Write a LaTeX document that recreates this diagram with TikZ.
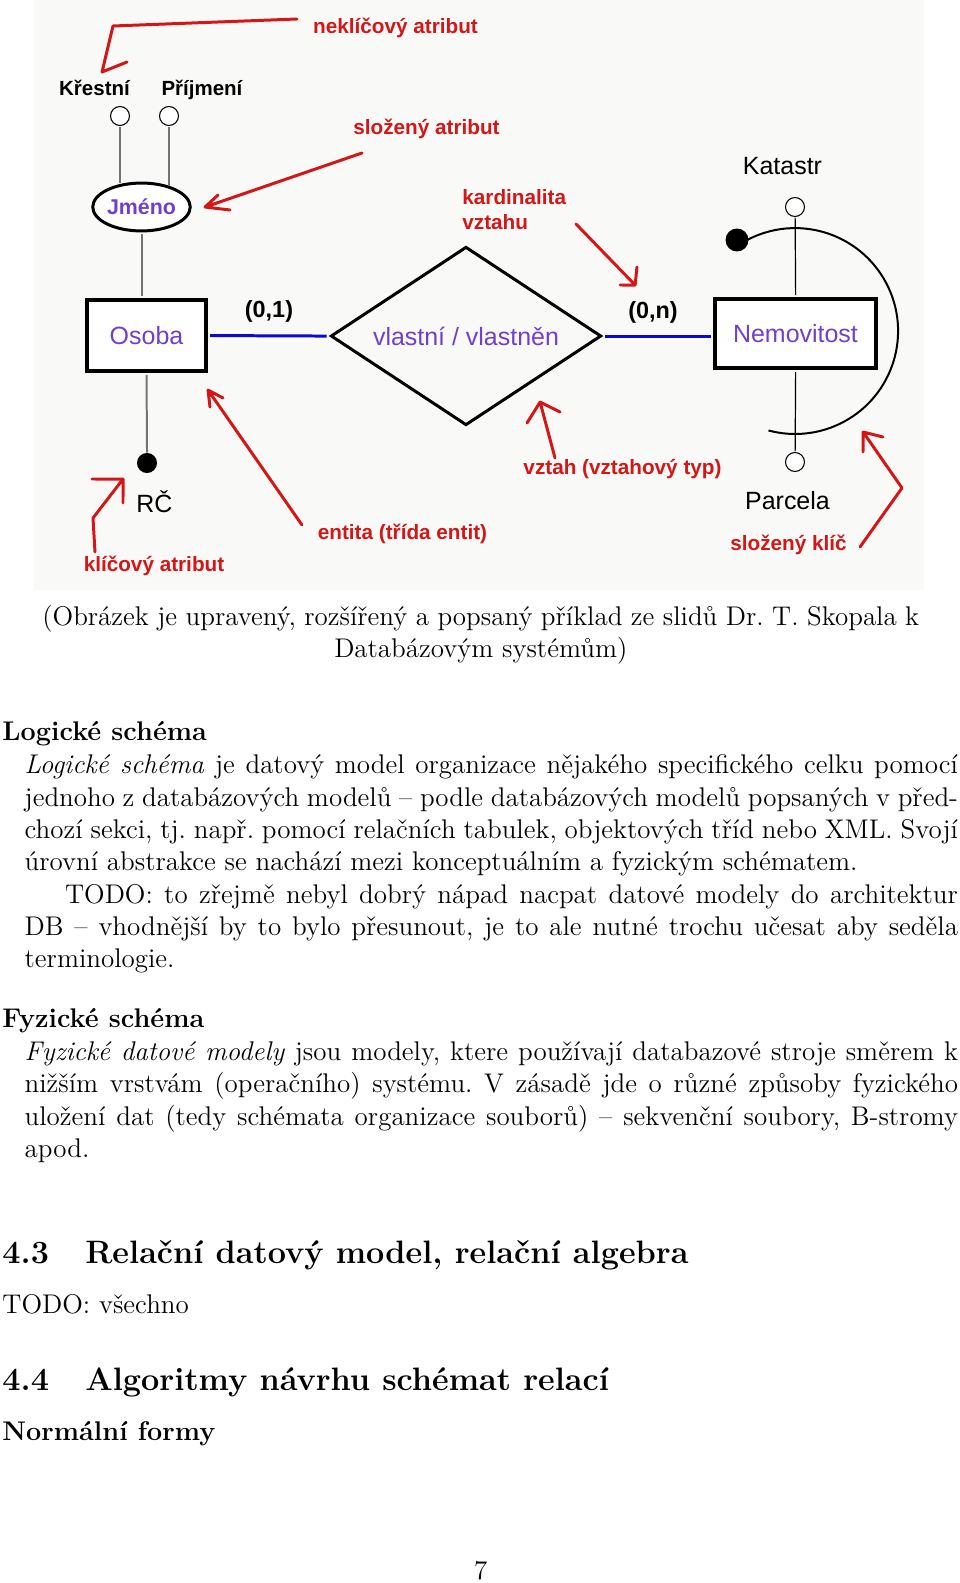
\documentclass[tikz,border=0pt]{standalone}
\usepackage{fontspec}
\newfontfamily\dg{Liberation Sans}
\usetikzlibrary{shapes.geometric}
\definecolor{annred}{RGB}{212,22,22}
\definecolor{erpurple}{RGB}{112,64,204}
\definecolor{erblue}{RGB}{10,10,210}
\definecolor{imgbg}{RGB}{249,250,248}
\definecolor{attgray}{RGB}{115,115,115}
\frenchspacing
\begin{document}
\begin{tikzpicture}[x=0.4488pt,y=-0.4488pt,scale=2.2591,
  every node/.append style={transform shape},
  ann/.style={inner sep=0,anchor=base,text=annred,font=\dg\bfseries\fontsize{9.3}{11}\selectfont},
  blk/.style={inner sep=0,anchor=base,text=black,font=\dg\bfseries\fontsize{9.2}{11}\selectfont},
  card/.style={inner sep=0,anchor=base,text=black,font=\dg\bfseries\fontsize{10.5}{12}\selectfont},
  attname/.style={inner sep=0,anchor=base,text=black,font=\dg\fontsize{11.2}{13}\selectfont},
  attc/.style={circle,draw,line width=1.1pt,fill=white,inner sep=0,minimum size=8.5pt},
  keydot/.style={circle,fill=black,inner sep=0},
  entity/.style={rectangle,draw,line width=3.6pt,fill=white,inner sep=0,text=erpurple,font=\dg\fontsize{11.2}{13}\selectfont},
  rel/.style={diamond,draw,line width=3pt,inner sep=0,aspect=1.5,text=erpurple,font=\dg\fontsize{11.2}{13}\selectfont},
  compatt/.style={ellipse,draw,line width=3pt,fill=white,inner sep=0,text=erpurple,font=\dg\bfseries\fontsize{9.6}{11}\selectfont},
  attline/.style={draw=attgray,line width=2pt},
  thinline/.style={draw=black,line width=1.2pt},
  relline/.style={draw=erblue,line width=3pt},
  redarrow/.style={draw=annred,line width=3pt,line cap=round,line join=round},
  body/.style={inner sep=0,anchor=base west,font=\fontsize{12}{14.5}\selectfont},
  bodyb/.style={inner sep=0,anchor=base west,font=\fontsize{12}{14.5}\selectfont\bfseries},
  sect/.style={inner sep=0,anchor=base west,font=\fontsize{14.4}{18}\selectfont\bfseries}]
\useasboundingbox (0,0) rectangle (950.4,1567.2);
\fill[white] (0,0) rectangle (950.4,1567.2);

\begin{scope}[scale=0.99]
% embedded figure background
\fill[imgbg] (34,0) rectangle (924,590);

% ---------- ER diagram ----------
\node[attc] (kc) at (120,116) {};
\node[attc] (pc) at (169,116) {};
\node[blk] (kcl) at (94.5,96) {Křestní};
\node[blk] (pcl) at (202,96) {Příjmení};
\node[compatt,minimum width=36.4pt,minimum height=21.5pt] (jm) at (141.5,207) {Jméno};
\node[entity,minimum width=53.4pt,minimum height=31.9pt] (os) at (146.5,335.5) {Osoba};
\node[rel,minimum width=122.1pt,minimum height=80.8pt] (dia) at (466,336) {vlastní / vlastněn};
\node[entity,minimum width=72.3pt,minimum height=31pt] (nem) at (795.5,333.5) {Nemovitost};
\node[keydot,minimum size=9pt] (rc) at (147,463) {};
\node[attname] (rcl) at (154.5,513) {RČ};
\node[attc] (kat) at (795,207) {};
\node[attname] (katl) at (782.5,175) {Katastr};
\node[keydot,minimum size=10.3pt] (kd) at (737,240) {};
\node[attc] (par) at (795,462) {};
\node[attname] (parl) at (787.5,510) {Parcela};
\node[card] (c01) at (269,318) {(0,1)};
\node[card] (c0n) at (653,319) {(0,n)};

\draw[attline] (kc.south) -- (kc.south |- jm.137);
\draw[attline] (pc.south) -- (pc.south |- jm.33);
\draw[attline] (jm.south) -- (jm.south |- os.north);
\draw[attline] (os.south) -- (rc.north);
\draw[relline] (os.east) -- (dia.west);
\draw[relline] (dia.east) -- (dia.east -| nem.west);
\draw[thinline] (kat.south) -- (nem.north);
\draw[thinline] (nem.south) -- (par.north);
\coordinate (arcC) at (795,331);
\draw[draw=black,line width=2pt] ([shift={(118:46.2pt)}]arcC) arc[start angle=118,end angle=-105,radius=46.2pt];

% ---------- annotations ----------
\node[ann] (a1) at (395.5,34) {neklíčový atribut};
\node[ann] (a2) at (426.5,135) {složený atribut};
\node[ann,anchor=base west] (a3) at (462,205) {kardinalita};
\node[ann,anchor=base west] (a3b) at (462,230) {vztahu};
\node[ann] (a4) at (402.5,540) {entita (třída entit)};
\node[ann] (a5) at (622.5,475) {vztah (vztahový typ)};
\node[ann] (a6) at (154,572) {klíčový atribut};
\node[ann] (a7) at (788.5,551) {složený klíč};

\coordinate (t1) at (102,72);
\draw[redarrow] (297,19) -- (113,26) -- (t1) -- (127,62);
\coordinate (t2) at (205,207);
\draw[redarrow] (362,153) -- (t2) -- (230,210) (t2) -- (218,195);
\coordinate (t3) at (635,285);
\draw[redarrow] (576,224) -- (t3) -- (620,285) (t3) -- (637,267);
\coordinate (t4) at (208,390);
\draw[redarrow] (302,525) -- (t4) -- (223,398) (t4) -- (210,407);
\coordinate (t5) at (540,402);
\draw[redarrow] (555,458) -- (t5) -- (560,412) (t5) -- (527,423);
\coordinate (t6) at (123,479);
\draw[redarrow] (95,552) -- (93,518) -- (t6) -- (92,479) (t6) -- (123,503);
\coordinate (t7) at (863,432);
\draw[redarrow] (860,547) -- (902,488) -- (t7) -- (883,437) (t7) -- (863,452);
\end{scope}

% ---------- page text ----------
\node[body,anchor=base] (cap1) at (476,619) {\makebox[389.6pt][s]{(Obrázek je upravený, rozšířený a popsaný příklad ze slidů Dr. T. Skopala k}};
\node[body,anchor=base] (cap2) at (476,651) {Databázovým systémům)};

\node[bodyb] (h1) at (2,733) {Logické schéma};
\node[body] (l1) at (24,766) {\makebox[414.7pt][s]{\textit{Logické schéma} je datový model organizace nějakého specifického celku pomocí}};
\node[body] (l2) at (24,798) {\makebox[414.7pt][s]{jednoho z databázových modelů -- podle databázových modelů popsaných v před-}};
\node[body] (l3) at (24,830) {\makebox[414.7pt][s]{chozí sekci, tj. např. pomocí relačních tabulek, objektových tříd nebo XML. Svojí}};
\node[body] (l4) at (24,862) {úrovní abstrakce se nachází mezi konceptuálním a fyzickým schématem.};
\node[body] (l5) at (64,894) {\makebox[396.7pt][s]{TODO: to zřejmě nebyl dobrý nápad nacpat datové modely do architektur}};
\node[body] (l6) at (24,926) {\makebox[414.7pt][s]{DB -- vhodnější by to bylo přesunout, je to ale nutné trochu učesat aby seděla}};
\node[body] (l7) at (24,958) {terminologie.};

\node[bodyb] (h2) at (2,1017) {Fyzické schéma};
\node[body] (m1) at (24,1050) {\makebox[414.7pt][s]{\textit{Fyzické datové modely} jsou modely, ktere používají databazové stroje směrem k}};
\node[body] (m2) at (24,1082) {\makebox[414.7pt][s]{nižším vrstvám (operačního) systému. V zásadě jde o různé způsoby fyzického}};
\node[body] (m3) at (24,1114) {\makebox[414.7pt][s]{uložení dat (tedy schémata organizace souborů) -- sekvenční soubory, B-stromy}};
\node[body] (m4) at (24,1146) {apod.};

\node[sect] (s3n) at (2,1251) {4.3};
\node[sect] (s3) at (84,1251) {Relační datový model, relační algebra};
\node[body] (s3t) at (2,1300) {TODO: všechno};
\node[sect] (s4n) at (2,1377) {4.4};
\node[sect] (s4) at (84,1377) {Algoritmy návrhu schémat relací};
\node[bodyb] (s4p) at (2,1426) {Normální formy};
\node[body,anchor=base] (pg) at (476,1564) {7};
\end{tikzpicture}
\end{document}
